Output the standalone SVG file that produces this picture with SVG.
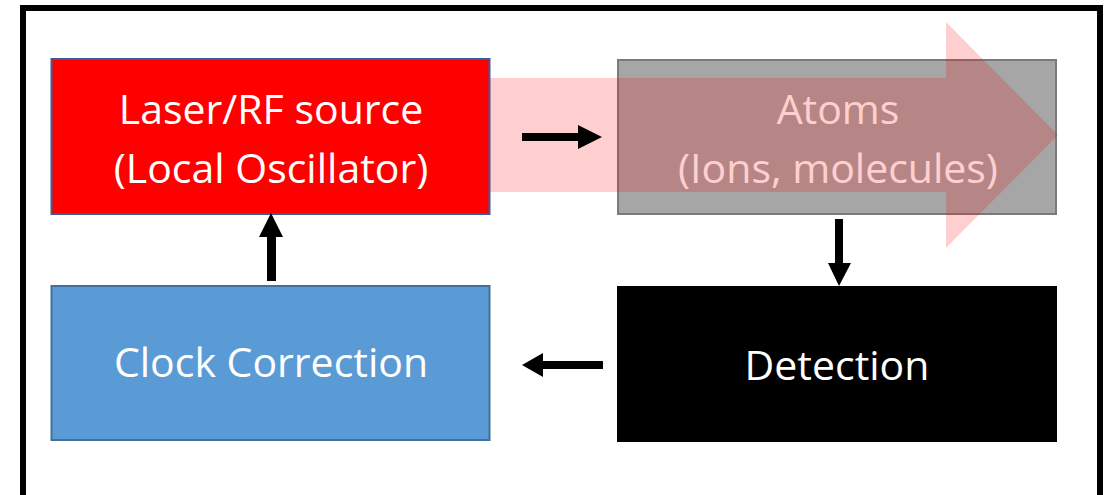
<svg xmlns="http://www.w3.org/2000/svg" width="1115" height="495" viewBox="0 0 1115 495">
<style>
.t{font-family:"Open Sans","Liberation Sans",sans-serif;font-size:41px;fill:#fff;text-anchor:middle}
.arr{fill:#000}
</style>
<rect x="0" y="0" width="1115" height="495" fill="#fff"/>
<rect x="23" y="8" width="1077" height="500" fill="#fff" stroke="#000" stroke-width="6"/>
<g id="laser">
<rect x="51.5" y="59" width="438" height="155" fill="#ff0000" stroke="#3a5c9c" stroke-width="2"/>
<text class="t" x="271" y="124">Laser/RF source</text>
<text class="t" x="271" y="183">(Local Oscillator)</text>
</g>
<g id="atoms">
<rect x="618" y="60" width="438" height="154" fill="#a6a6a6" stroke="#7a7a7a" stroke-width="2"/>
<text class="t" x="838" y="124">Atoms</text>
<text class="t" x="838" y="183">(Ions, molecules)</text>
</g>
<g id="beam">
<polygon points="490,78 946,78 946,22 1058,135 946,248 946,192 490,192" fill="#ff0000" fill-opacity="0.19"/>
</g>
<g id="clock">
<rect x="51.5" y="286" width="438" height="154" fill="#5b9bd5" stroke="#41719c" stroke-width="2"/>
<text class="t" x="271" y="377">Clock Correction</text>
</g>
<g id="detection">
<rect x="617" y="286" width="440" height="156" fill="#000"/>
<text class="t" x="837" y="380">Detection</text>
</g>
<g id="connectors">
<polygon class="arr" points="522,133 578,133 578,125 602,137 578,149 578,141 522,141"/>
<polygon class="arr" points="835,219 843,219 843,263 851,263 839,286 828,263 835,263"/>
<polygon class="arr" points="603,361 543,361 543,353 522,365 543,377 543,369 603,369"/>
<polygon class="arr" points="267,281 267,237 259,237 271,213 283,237 276,237 276,281"/>
</g>
</svg>
